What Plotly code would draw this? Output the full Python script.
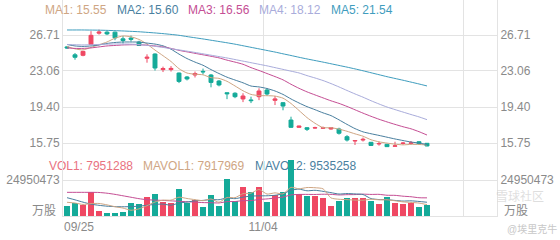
import plotly.graph_objects as go

# ---------------- data ----------------
opens = [25.5, 24.7, 24.65, 25.75, 26.9, 27.0, 27.0, 26.32, 26.4, 26.0,
         24.35, 24.78, 23.2, 23.2, 22.85, 22.45, 22.65, 23.02, 22.65, 22.04,
         20.85, 20.8, 20.22, 20.12, 20.45, 21.13, 20.08, 19.84, 18.08, 17.34,
         17.3, 17.27, 17.25, 17.17, 17.17, 16.39, 15.95, 16.05, 15.82, 15.65,
         15.62, 15.42, 15.7, 15.72, 15.88, 15.72]
highs = [25.6, 24.88, 25.1, 27.1, 27.25, 27.1, 27.05, 26.6, 26.65, 26.12,
         24.75, 24.85, 23.5, 23.55, 22.9, 22.55, 23.0, 23.3, 22.75, 22.14,
         20.87, 20.9, 20.8, 20.45, 21.3, 21.3, 20.52, 19.9, 18.42, 17.5,
         17.35, 17.4, 17.42, 17.35, 17.3, 16.55, 16.02, 16.3, 15.85, 15.88,
         15.65, 15.88, 15.85, 15.95, 15.92, 15.75]
lows = [25.3, 24.2, 24.55, 25.75, 26.75, 26.7, 26.18, 25.85, 26.05, 25.6,
        23.9, 23.1, 22.95, 23.0, 21.83, 22.1, 22.4, 22.7, 21.4, 21.5,
        20.2, 20.3, 19.9, 19.8, 20.1, 20.55, 19.6, 19.07, 17.3, 17.3,
        16.97, 17.2, 17.17, 17.1, 16.6, 15.9, 15.55, 15.9, 15.45, 15.48,
        15.35, 15.4, 15.6, 15.68, 15.65, 15.42]
closes = [25.4, 24.45, 25.05, 26.68, 27.0, 26.82, 26.42, 26.15, 26.27, 25.65,
          24.45, 23.36, 23.3, 23.32, 22.0, 22.25, 22.8, 22.97, 21.9, 21.64,
          20.75, 20.45, 20.52, 20.05, 21.03, 20.72, 20.22, 19.5, 17.34, 17.47,
          17.14, 17.3, 17.3, 17.3, 16.74, 16.05, 16.0, 16.12, 15.5, 15.7,
          15.38, 15.46, 15.74, 15.76, 15.68, 15.45]

ma1 = [25.55, 25.3, 25.2, 25.45, 25.72, 26.0, 26.39, 26.61, 26.53, 26.26,
       25.79, 25.18, 24.61, 24.02, 23.29, 22.85, 22.73, 22.67, 22.38, 22.31,
       22.01, 21.54, 21.05, 20.68, 20.56, 20.55, 20.51, 20.30, 19.76, 19.05,
       18.33, 17.75, 17.31, 17.30, 17.16, 16.94, 16.68, 16.44, 16.08, 15.87,
       15.74, 15.63, 15.56, 15.61, 15.60, 15.55]
ma2 = [25.75, 25.6, 25.55, 25.6, 25.7, 25.85, 25.95, 26.0, 26.0, 25.99,
       25.89, 25.79, 25.61, 25.27, 24.77, 24.32, 23.96, 23.64, 23.20, 22.80,
       22.43, 22.14, 21.86, 21.53, 21.44, 21.28, 21.03, 20.68, 20.22, 19.81,
       19.44, 19.13, 18.81, 18.53, 18.10, 17.64, 17.21, 16.88, 16.69, 16.52,
       16.34, 16.16, 16.0, 15.85, 15.74, 15.60]
ma3 = [25.4, 25.35, 25.35, 25.4, 25.5, 25.6, 25.65, 25.7, 25.72, 25.72,
       25.68, 25.6, 25.5, 25.35, 25.15, 25.0, 24.85, 24.7, 24.55, 24.39,
       24.16, 23.96, 23.74, 23.40, 23.11, 22.80, 22.49, 22.16, 21.71, 21.30,
       20.94, 20.63, 20.33, 20.03, 19.77, 19.46, 19.12, 18.78, 18.46, 18.16,
       17.89, 17.64, 17.40, 17.19, 16.90, 16.56]
ma4 = [25.75, 25.72, 25.7, 25.72, 25.75, 25.78, 25.8, 25.8, 25.78, 25.74,
       25.66, 25.56, 25.45, 25.32, 25.2, 25.07, 24.94, 24.8, 24.66, 24.52,
       24.38, 24.22, 24.06, 23.9, 23.74, 23.58, 23.4, 23.22, 23.04, 22.86,
       22.59, 22.35, 22.09, 21.78, 21.44, 21.08, 20.73, 20.40, 20.04, 19.71,
       19.40, 19.14, 18.89, 18.64, 18.40, 18.12]
ma5 = [27.22, 27.22, 27.22, 27.21, 27.2, 27.18, 27.15, 27.12, 27.08, 27.04,
       26.98, 26.92, 26.85, 26.77, 26.68, 26.55, 26.43, 26.31, 26.18, 26.05,
       25.92, 25.78, 25.62, 25.46, 25.30, 25.14, 24.98, 24.80, 24.63, 24.45,
       24.28, 24.12, 23.96, 23.79, 23.62, 23.45, 23.27, 23.08, 22.88, 22.68,
       22.48, 22.3, 22.12, 21.93, 21.74, 21.54]

volumes = [7150000, 8800000, 7600000, 16400000, 3500000, 2300000, 2300000, 3000000, 8800000, 8300000,
           13400000, 15000000, 9500000, 8800000, 18500000, 8800000, 11100000, 6000000, 14600000, 7100000,
           25400000, 10400000, 19900000, 16300000, 19900000, 9500000, 14600000, 16400000, 38800000, 15000000,
           13900000, 13900000, 12700000, 7100000, 10400000, 12700000, 12200000, 12200000, 10600000, 8300000,
           12900000, 8800000, 8300000, 8800000, 6000000, 7951288]
mavol1 = [9.5, 9.0, 8.0, 8.6, 8.69, 7.72, 6.42, 5.5, 3.98, 4.94,
          7.16, 9.7, 11.0, 11.0, 13.04, 12.12, 11.34, 10.64, 11.8, 9.52,
          12.84, 12.7, 15.48, 15.82, 18.38, 15.2, 16.04, 15.34, 19.84, 18.86,
          19.74, 19.6, 18.86, 12.52, 11.6, 11.36, 11.02, 10.92, 11.62, 11.2,
          11.24, 10.56, 9.78, 9.42, 8.96, 7.917969]
mavol2 = [12.7, 11.2, 9.6, 8.2, 7.4, 6.8, 6.5, 6.4, 6.5, 6.82,
          7.44, 8.06, 8.25, 7.49, 8.99, 9.64, 10.52, 10.82, 11.4, 11.28,
          12.48, 12.02, 13.06, 13.81, 13.95, 14.02, 14.37, 15.41, 17.83, 18.62,
          17.47, 17.82, 17.1, 16.18, 15.23, 15.55, 15.31, 14.89, 12.07, 11.4,
          11.3, 10.79, 10.35, 10.52, 10.08, 9.535258]
mavol3 = [16.4, 16.4, 16.4, 16.4, 16.3, 15.8, 15.0, 14.0, 13.0, 12.0,
          11.3, 11.0, 10.8, 10.5, 10.2, 9.9, 9.6, 9.3, 9.2, 9.05,
          9.96, 10.04, 10.66, 10.65, 11.47, 11.83, 12.45, 13.12, 14.62, 14.95,
          14.98, 14.92, 15.08, 15.0, 14.59, 14.79, 14.84, 15.15, 14.95, 15.01,
          14.39, 14.31, 13.73, 13.35, 12.66, 12.58]

date_labels = ["09/25", "11/04"]
date_index = [0, 25]
price_ticks = [15.75, 19.40, 23.06, 26.71]
vol_tick = 24950473

ma_names = ["MA1", "MA2", "MA3", "MA4", "MA5"]
ma_last = ["15.55", "15.60", "16.56", "18.12", "21.54"]
vol_names = ["VOL1", "MAVOL1", "MAVOL2"]
vol_last = ["7951288", "7917969", "9535258"]

# ---------------- style ----------------
RED = "#ef4863"
TEAL = "#14aa99"
C_MA = ["#cfa684", "#4a7f9f", "#c54e94", "#a9acdb", "#3f9dbe"]
C_VOL = ["#e9727f", "#cfa684", "#4a7f9f"]
GRID = "#e3e3e3"
LBL = "#8a8a8a"
FONT = "Liberation Sans, Arial, Noto Sans CJK SC, sans-serif"
W, H = 560, 240
X0, X1 = 63, 497
STEP = 8  # px per category

idx = list(range(len(closes)))
M = 1e6

# pixel <-> value helpers for layout
per_px = (price_ticks[-1] - price_ticks[0]) / (143 - 35)
main_top, main_bot = 0, 180
y_rng = [price_ticks[0] - (main_bot - 143) * per_px, price_ticks[0] + (143 - main_top) * per_px]
vol_top, vol_bot = 160, 216
v_rng = [0, vol_tick * (vol_bot - vol_top) / (vol_bot - 180)]
x_rng = [-0.5, (X1 - X0) / STEP - 0.5]
grid_pos = [24.5, 49.5]
tick_pos = [date_index[0] + 1.5, date_index[1] - 0.5]


def px_to_cat(px):
    return (px - X0) / STEP - 0.5


def py_to_price(py):
    return price_ticks[0] - (py - 143) * per_px


fig = go.Figure()

# volume legend text as a text trace in the main subplot (drawn beneath the volume bars)
vol_anchor_px = [133, 143, 255]
vol_textpos = ["middle left", "middle right", "middle right"]
fig.add_trace(go.Scatter(
    x=[px_to_cat(p) for p in vol_anchor_px], y=[py_to_price(167)] * len(vol_anchor_px),
    xaxis="x", yaxis="y", mode="text",
    text=[f"{n}: {v}" for n, v in zip(vol_names, vol_last)],
    textposition=vol_textpos,
    textfont=dict(family=FONT, size=12, color=C_VOL),
    cliponaxis=False, showlegend=False, hoverinfo="skip"))

fig.add_trace(go.Candlestick(
    x=idx, open=opens, high=highs, low=lows, close=closes,
    xaxis="x", yaxis="y",
    increasing=dict(line=dict(color=RED, width=1), fillcolor=RED),
    decreasing=dict(line=dict(color=TEAL, width=1), fillcolor=TEAL),
    whiskerwidth=0, showlegend=False, hoverinfo="skip"))

for series, col in zip([ma1, ma2, ma3, ma4, ma5], C_MA):
    fig.add_trace(go.Scatter(x=idx, y=series, xaxis="x", yaxis="y", mode="lines",
                             line=dict(color=col, width=1, shape="spline", smoothing=0.6),
                             showlegend=False, hoverinfo="skip"))

vol_colors = [RED if c >= o else TEAL for o, c in zip(opens, closes)]
fig.add_trace(go.Bar(x=idx, y=volumes, xaxis="x2", yaxis="y2", width=0.75,
                     marker=dict(color=vol_colors, line=dict(width=0)),
                     showlegend=False, hoverinfo="skip"))

for series, col in zip([mavol3, mavol2, mavol1], [C_MA[2], C_VOL[2], C_VOL[1]]):
    fig.add_trace(go.Scatter(x=idx, y=[v * M for v in series], xaxis="x2", yaxis="y2",
                             mode="lines",
                             line=dict(color=col, width=1, shape="spline", smoothing=0.6),
                             showlegend=False, hoverinfo="skip"))

# invisible traces for right-side axes
fig.add_trace(go.Scatter(x=idx, y=closes, xaxis="x", yaxis="y3", mode="lines",
                         line=dict(width=0), opacity=0, showlegend=False, hoverinfo="skip"))
fig.add_trace(go.Scatter(x=idx, y=volumes, xaxis="x2", yaxis="y4", mode="lines",
                         line=dict(width=0), opacity=0, showlegend=False, hoverinfo="skip"))

xdom = [X0 / W, X1 / W]
tickfont = dict(family=FONT, size=12, color=LBL)
price_text = [f"{v:.2f}" for v in price_ticks]

fig.update_layout(
    width=W, height=H, margin=dict(l=0, r=0, t=0, b=0),
    paper_bgcolor="white", plot_bgcolor="rgba(0,0,0,0)",
    font=dict(family=FONT, size=12, color=LBL),
    xaxis=dict(domain=xdom, range=x_rng, anchor="y", showgrid=False, zeroline=False,
               showticklabels=False, ticks="", showline=False,
               minor=dict(tickvals=grid_pos, showgrid=True, gridcolor=GRID, gridwidth=1, ticks=""),
               rangeslider=dict(visible=False), fixedrange=True),
    xaxis2=dict(domain=xdom, range=x_rng, anchor="y2", showgrid=False, zeroline=False,
                tickmode="array", tickvals=tick_pos, ticktext=date_labels, ticks="",
                tickfont=tickfont, showline=True, linecolor=GRID, linewidth=1,
                minor=dict(tickvals=grid_pos, showgrid=True, gridcolor=GRID, gridwidth=1, ticks=""),
                fixedrange=True),
    yaxis=dict(domain=[1 - main_bot / H, 1 - main_top / H], range=y_rng, anchor="x",
               tickmode="array", tickvals=price_ticks, ticktext=price_text,
               showgrid=True, gridcolor=GRID, zeroline=False, ticks="", tickfont=tickfont,
               showline=True, linecolor=GRID, fixedrange=True),
    yaxis3=dict(overlaying="y", side="right", anchor="x", range=y_rng,
                tickmode="array", tickvals=price_ticks, ticktext=price_text,
                showgrid=False, zeroline=False, ticks="", tickfont=tickfont,
                showline=True, linecolor=GRID, fixedrange=True),
    yaxis2=dict(domain=[1 - vol_bot / H, 1 - vol_top / H], range=v_rng, anchor="x2",
                tickmode="array", tickvals=[vol_tick], ticktext=[str(vol_tick)],
                showgrid=True, gridcolor=GRID, zeroline=False, ticks="", tickfont=tickfont,
                showline=True, linecolor=GRID, fixedrange=True),
    yaxis4=dict(overlaying="y2", side="right", anchor="x2", range=v_rng,
                tickmode="array", tickvals=[vol_tick], ticktext=[str(vol_tick)],
                showgrid=False, zeroline=False, ticks="", tickfont=tickfont,
                showline=True, linecolor=GRID, fixedrange=True),
    bargap=0,
)

ann = []
# top legend
ma_x = [43, 115, 186, 257, 329]
for name, val, col, px in zip(ma_names, ma_last, C_MA, ma_x):
    ann.append(dict(x=px / W, y=1 - 10 / H, xref="paper", yref="paper", xanchor="left",
                    yanchor="middle", text=f"{name}: {val}", showarrow=False,
                    font=dict(family=FONT, size=12, color=col)))
# unit labels
ann.append(dict(x=58 / W, y=1 - 211 / H, xref="paper", yref="paper", xanchor="right",
                yanchor="middle", text="万股", showarrow=False,
                font=dict(family=FONT, size=12, color=LBL)))
ann.append(dict(x=502 / W, y=1 - 211 / H, xref="paper", yref="paper", xanchor="left",
                yanchor="middle", text="万股", showarrow=False,
                font=dict(family=FONT, size=12, color=LBL)))
# watermark
ann.append(dict(x=494 / W, y=1 - 196 / H, xref="paper", yref="paper", xanchor="left",
                yanchor="middle", text="雪球社区", showarrow=False,
                font=dict(family=FONT, size=12, color="rgba(190,190,190,0.5)")))
ann.append(dict(x=505 / W, y=1 - 229 / H, xref="paper", yref="paper", xanchor="left",
                yanchor="middle", text="@埃里克牛", showarrow=False,
                font=dict(family=FONT, size=10, color="#c8c8c8")))
fig.update_layout(annotations=ann)

fig.write_html("out.html")
